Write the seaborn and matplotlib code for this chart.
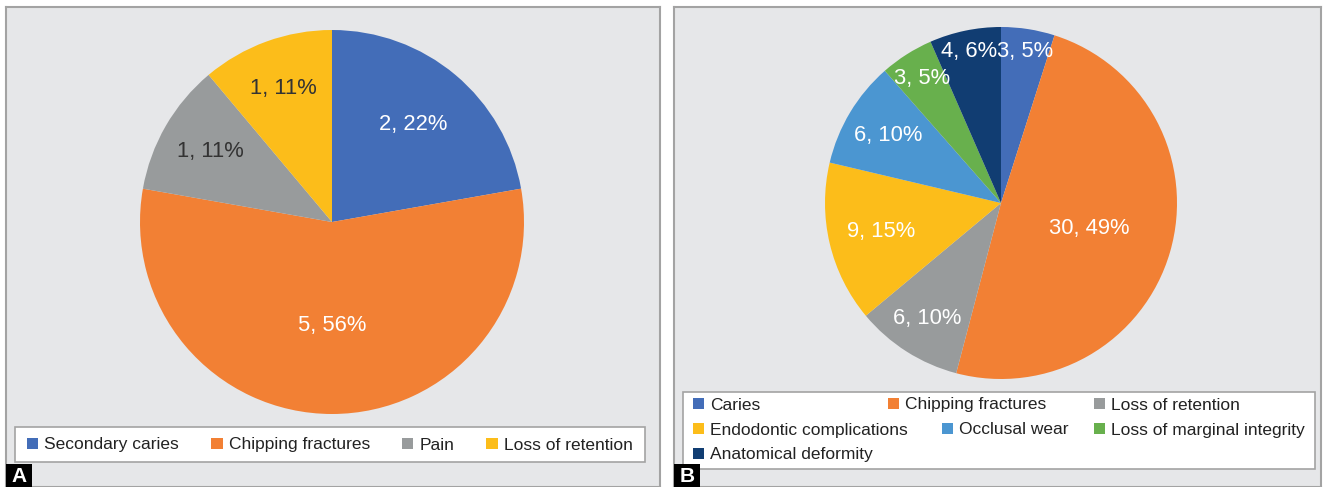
import seaborn as sns
import matplotlib.pyplot as plt
from matplotlib.patches import Patch, Rectangle
import numpy as np

# Panel A data
a_labels = ["Secondary caries", "Chipping fractures", "Pain", "Loss of retention"]
a_counts = [2, 5, 1, 1]
a_text = ["2, 22%", "5, 56%", "1, 11%", "1, 11%"]

# Panel B data
b_labels = ["Caries", "Chipping fractures", "Loss of retention", "Endodontic complications",
            "Occlusal wear", "Loss of marginal integrity", "Anatomical deformity"]
b_counts = [3, 30, 6, 9, 6, 3, 4]
b_text = ["3, 5%", "30, 49%", "6, 10%", "9, 15%", "6, 10%", "3, 5%", "4, 6%"]

a_colors = sns.color_palette(["#436db8", "#f28034", "#989b9c", "#fcbd1a"])
b_colors = sns.color_palette(["#436db8", "#f28034", "#989b9c", "#fcbd1a",
                              "#4b96d1", "#68b04d", "#113d72"])
a_txtcol = ["white", "white", "#333333", "#333333"]
b_txtcol = ["white"] * 7
a_lab_r = [0.66, 0.54, 0.73, 0.74]
b_lab_r = [0.87, 0.52, 0.78, 0.70, 0.75, 0.84, 0.88]

# where each legend entry of panel B sits (pixels, handle left / row centre)
b_leg_x = [693, 888, 1094, 693, 942, 1094, 693]
b_leg_y = [405, 405, 405, 430, 430, 430, 455]

sns.set_style("white")
plt.rcParams["font.family"] = ["Liberation Sans", "DejaVu Sans"]

W, H = 1328, 487
fig = plt.figure(figsize=(W / 100, H / 100), dpi=100)
fig.patch.set_facecolor("white")

bg_col = "#e6e7e9"
edge_col = "#a3a3a3"
leg_size = 12.5


def panel(x0, x1, y0):
    ax = fig.add_axes([x0 / W, 0, (x1 - x0) / W, 1 - y0 / H])
    ax.set_facecolor(bg_col)
    ax.set_xticks([])
    ax.set_yticks([])
    for s in ax.spines.values():
        s.set_color(edge_col)
        s.set_linewidth(1.5)
    return ax


def draw_pie(cx, cy, r, counts, texts, colors, txtcol, lab_r):
    ax = fig.add_axes([(cx - r) / W, 1 - (cy + r) / H, 2 * r / W, 2 * r / H])
    wedges, _ = ax.pie(counts, colors=colors, startangle=90, counterclock=False,
                       radius=1, wedgeprops=dict(linewidth=0))
    for w, t, c, rr in zip(wedges, texts, txtcol, lab_r):
        ang = np.deg2rad((w.theta1 + w.theta2) / 2)
        ax.text(rr * np.cos(ang), rr * np.sin(ang), t, ha="center", va="center",
                color=c, fontsize=15.8)
    ax.set_xlim(-1, 1)
    ax.set_ylim(-1, 1)
    ax.axis("off")
    return ax


def legend_box(x0, y0, x1, y1):
    fig.add_artist(Rectangle((x0 / W, 1 - y1 / H), (x1 - x0) / W, (y1 - y0) / H,
                             transform=fig.transFigure, facecolor="white",
                             edgecolor=edge_col, linewidth=1.2, zorder=2))


def tag(x0, letter):
    fig.add_artist(Rectangle((x0 / W, 0), 26 / W, 23 / H, transform=fig.transFigure,
                             facecolor="black", edgecolor="none", zorder=3))
    fig.text((x0 + 13) / W, 11 / H, letter, color="white", fontsize=15,
             fontweight="bold", ha="center", va="center", zorder=4)


leg_kw = dict(frameon=False, fontsize=leg_size, borderpad=0, borderaxespad=0,
              handlelength=0.65, handleheight=0.65, handletextpad=0.35,
              labelcolor="#222222")

# Panel A
panel(6, 660, 7)
draw_pie(332, 222, 192, a_counts, a_text, a_colors, a_txtcol, a_lab_r)
legend_box(15, 427, 645, 462)
ha = [Patch(facecolor=c, edgecolor="none") for c in a_colors]
fig.legend(ha, a_labels, loc="center left", bbox_to_anchor=(27 / W, 1 - 445 / H),
           ncol=4, columnspacing=1.85, **leg_kw)
tag(6, "A")

# Panel B
panel(674, 1321, 7)
draw_pie(1001, 203, 176, b_counts, b_text, b_colors, b_txtcol, b_lab_r)
legend_box(683, 392, 1315, 469)
for lab, col, lx, ly in zip(b_labels, b_colors, b_leg_x, b_leg_y):
    fig.legend([Patch(facecolor=col, edgecolor="none")], [lab], loc="center left",
               bbox_to_anchor=(lx / W, 1 - ly / H), **leg_kw)
tag(674, "B")

fig.savefig("out.png", dpi=100)
